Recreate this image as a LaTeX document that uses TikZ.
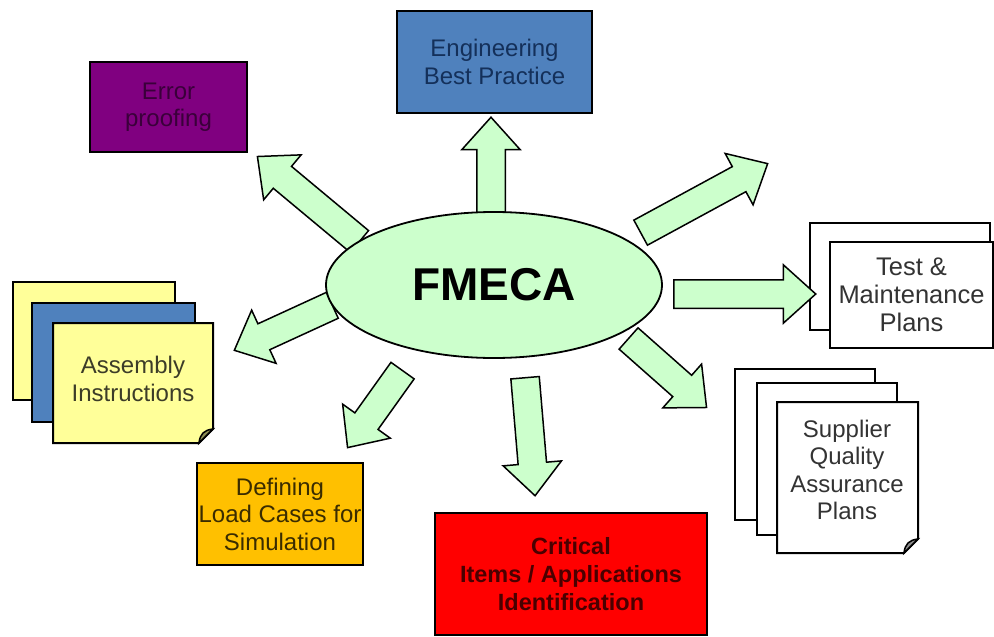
\documentclass[tikz,border=0pt]{standalone}
\usepackage{fontspec}
\setmainfont{Liberation Sans}
\usetikzlibrary{shapes.geometric,shapes.arrows,calc}

\definecolor{arrowgreen}{HTML}{CCFFCC}
\definecolor{bpblue}{HTML}{4F81BD}
\definecolor{bptext}{HTML}{14305A}
\definecolor{eppurple}{HTML}{800080}
\definecolor{eptext}{HTML}{3A003A}
\definecolor{lcorange}{HTML}{FFC000}
\definecolor{lctext}{HTML}{3A2C00}
\definecolor{crred}{HTML}{FF0000}
\definecolor{crtext}{HTML}{4A0000}
\definecolor{docyellow}{HTML}{FFFF99}
\definecolor{doctext}{HTML}{3C3C28}

\tikzset{
	box/.style={draw=black, line width=2pt, rectangle, align=center, inner sep=0pt,
		font=\fontsize{24}{27.5}\selectfont},
	page/.style={draw=black, line width=2pt, rectangle, inner sep=0pt},
	doclabel/.style={align=center, inner sep=0pt, font=\fontsize{24}{27.5}\selectfont},
	bigarrow/.style={single arrow, draw=black, fill=arrowgreen, line width=1.5pt,
		inner xsep=0pt, inner ysep=13.5pt, single arrow head extend=15pt,
		single arrow tip angle=84}
}

% page with a curled corner: x1,y1,x2,y2,fill
\newcommand\foldpage[5]{%
	\filldraw[line width=2pt, fill=#5] (#1,#2) -- (#3,#2) -- (#3,#4-14) -- (#3-14,#4) -- (#1,#4) -- cycle;
	\filldraw[line width=1.5pt, fill=#5!55!black] (#3,#4-14) .. controls (#3-9,#4-13) and (#3-13,#4-9) .. (#3-14,#4) -- cycle;}

% block arrow from tail to tip
\newcommand\blockarrow[2]{%
	\path let \p1=(#1), \p2=(#2), \n1={atan2(\y2-\y1,\x2-\x1)}, \n2={veclen(\x2-\x1,\y2-\y1)} in
		node[bigarrow, minimum height=\n2, rotate=\n1, anchor=tail] at (#1) {};}

\begin{document}
\begin{tikzpicture}[x=1pt,y=-1pt]
	\useasboundingbox (0,0) rectangle (994,637);

	% document stacks
	\node[page, fill=docyellow, minimum width=162, minimum height=118] (asm back) at (94,341) {};
	\node[page, fill=bpblue, minimum width=163, minimum height=119] (asm mid) at (113.5,362.5) {};
	\foldpage{53}{323}{213}{443}{docyellow}
	\node[doclabel, text=doctext] (assembly) at (133,379) {Assembly\\Instructions};

	\node[page, fill=white, minimum width=180, minimum height=107] (test back) at (900,276.5) {};
	\node[box, fill=white, text=black!80, minimum width=163, minimum height=106,
		font=\fontsize{25.5}{28}\selectfont] (testplan) at (911.5,295) {Test \&\\Maintenance\\Plans};

	\node[page, fill=white, minimum width=140, minimum height=151] (sup back) at (805,444.5) {};
	\node[page, fill=white, minimum width=140, minimum height=152] (sup mid) at (827,459) {};
	\foldpage{777}{402}{918}{553}{white}
	\node[doclabel, text=black!80] (supplier) at (847,470) {Supplier\\Quality\\Assurance\\Plans};

	% arrows out of the ellipse
	\coordinate (bp tail) at (491,232);   \coordinate (bp tip) at (491,118);
	\coordinate (ep tail) at (360,242);   \coordinate (ep tip) at (258,157);
	\coordinate (ne tail) at (640,233);   \coordinate (ne tip) at (767,164);
	\coordinate (tp tail) at (673,294);   \coordinate (tp tip) at (815,294);
	\coordinate (sq tail) at (628,338);   \coordinate (sq tip) at (706,407);
	\coordinate (cr tail) at (525,377);   \coordinate (cr tip) at (535,495);
	\coordinate (lc tail) at (403,370);   \coordinate (lc tip) at (348,447);
	\coordinate (ai tail) at (333,305);   \coordinate (ai tip) at (235,350);
	\foreach \a in {bp,ep,ne,tp,sq,cr,lc,ai}
		\blockarrow{\a\space tail}{\a\space tip};

	\node[draw=black, ellipse, fill=arrowgreen, line width=1.8pt, minimum width=336, minimum height=146,
		font=\bfseries\fontsize{46}{50}\selectfont] (fmeca) at (494,285) {FMECA};

	% boxes
	\node[box, fill=bpblue, text=bptext, minimum width=195, minimum height=102] (bestpractice) at (494.5,62) {Engineering\\Best Practice};
	\node[box, fill=eppurple, text=eptext, minimum width=157, minimum height=90] (errorproof) at (168.5,107) {Error\\proofing};
	\node[box, fill=lcorange, text=lctext, minimum width=166, minimum height=102] (loadcases) at (280,514) {Defining\\Load Cases for\\Simulation};
	\node[box, fill=crred, text=crtext, minimum width=272, minimum height=122,
		font=\bfseries\fontsize{23.5}{28}\selectfont] (critical) at (571,574) {Critical\\Items / Applications\\Identification};
\end{tikzpicture}
\end{document}
